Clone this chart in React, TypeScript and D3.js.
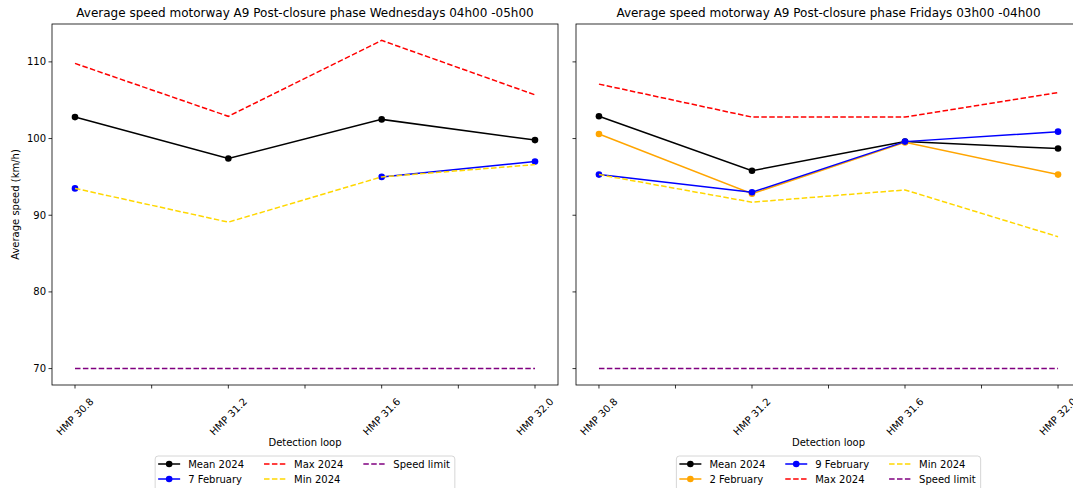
import React from 'react';
import * as d3 from 'd3';

const loops = [30.8, 31.2, 31.6, 32.0];
const tickVals = [30.8, 31.0, 31.2, 31.4, 31.6, 31.8, 32.0];
const tickLabels = ['HMP 30.8', '', 'HMP 31.2', '', 'HMP 31.6', '', 'HMP 32.0'];
const yTicks = [70, 80, 90, 100, 110];

// Wednesdays 04h00 - 05h00
const wedMean = [102.8, 97.4, 102.5, 99.8];
const wedFeb7 = [93.5, NaN, 95.0, 97.0];
const wedMax = [109.8, 102.9, 112.8, 105.7];
const wedMin = [93.5, 89.1, 95.0, 96.6];

// Fridays 03h00 - 04h00
const friMean = [102.9, 95.8, 99.6, 98.7];
const friFeb2 = [100.6, 92.8, 99.5, 95.3];
const friFeb9 = [95.3, 93.0, 99.6, 100.9];
const friMax = [107.1, 102.8, 102.8, 106.0];
const friMin = [95.3, 91.7, 93.3, 87.2];

const speedLimit = [70, 70, 70, 70];

interface Series {
  label: string;
  values: number[];
  color: string;
  dashed?: boolean;
  marker?: boolean;
}

const width = 1073;
const height = 488;
const top = 24;
const bottom = 385;
const yScale = d3.scaleLinear().domain([67.86, 114.94]).range([bottom, top]);

const font = 'DejaVu Sans, sans-serif';

let ctx: CanvasRenderingContext2D | null = null;
const textW = (s: string, size = 10) => {
  if (!ctx) ctx = document.createElement('canvas').getContext('2d');
  if (!ctx) return s.length * size * 0.6;
  ctx.font = `${size}px "DejaVu Sans"`;
  return ctx.measureText(s).width;
};

const Panel: React.FC<{
  x0: number;
  x1: number;
  title: string;
  series: Series[];
  showY: boolean;
}> = ({ x0, x1, title, series, showY }) => {
  const xScale = d3.scaleLinear().domain([30.74, 32.06]).range([x0, x1]);
  const line = d3
    .line<number>()
    .defined((d) => !isNaN(d))
    .x((_, i) => xScale(loops[i]))
    .y((d) => yScale(d));

  // legend layout: 3 columns, column-major, centred under the axes
  const handle = 22;
  const textPad = 8;
  const colGap = 20;
  const cols = d3.range(3).map((c) => series.slice(c * 2, c * 2 + 2));
  const colTextW = cols.map((c) => d3.max(c, (s) => textW(s.label)) || 0);
  const colX: number[] = [];
  let acc = 0;
  colTextW.forEach((w) => {
    colX.push(acc);
    acc += handle + textPad + w + colGap;
  });
  const contentW = acc - colGap;
  const legendW = contentW + 8;
  const legendX = (x0 + x1) / 2 - legendW / 2;

  return (
    <g>
      <text x={(x0 + x1) / 2} y={17} textAnchor="middle" fontSize={12} fontFamily={font}>
        {title}
      </text>
      {series.map((s) => (
        <g key={s.label}>
          <path
            d={line(s.values) || ''}
            fill="none"
            stroke={s.color}
            strokeWidth={1.5}
            strokeDasharray={s.dashed ? '5.5,2.4' : undefined}
          />
          {s.marker &&
            s.values.map((v, i) =>
              isNaN(v) ? null : <circle key={i} cx={xScale(loops[i])} cy={yScale(v)} r={3.3} fill={s.color} />
            )}
        </g>
      ))}
      <rect x={x0} y={top} width={x1 - x0} height={bottom - top} fill="none" stroke="#000" strokeWidth={0.8} />
      {yTicks.map((t) => (
        <g key={t}>
          <line x1={x0 - 3.5} x2={x0} y1={yScale(t)} y2={yScale(t)} stroke="#000" strokeWidth={0.8} />
          {showY && (
            <text x={x0 - 6} y={yScale(t)} dy="0.35em" textAnchor="end" fontSize={10} fontFamily={font}>
              {t}
            </text>
          )}
        </g>
      ))}
      {tickVals.map((t, i) => {
        const lab = tickLabels[i];
        const cy = bottom + 12 + (textW(lab) + 8) * 0.3536;
        return (
          <g key={t}>
            <line x1={xScale(t)} x2={xScale(t)} y1={bottom} y2={bottom + 3.5} stroke="#000" strokeWidth={0.8} />
            {lab && (
              <text
                transform={`translate(${xScale(t)},${cy}) rotate(-45)`}
                textAnchor="middle"
                dy="0.35em"
                fontSize={10}
                fontFamily={font}
              >
                {lab}
              </text>
            )}
          </g>
        );
      })}
      <text x={(x0 + x1) / 2} y={446} textAnchor="middle" fontSize={10} fontFamily={font}>
        Detection loop
      </text>
      {showY && (
        <text
          transform={`translate(19,${(top + bottom) / 2}) rotate(-90)`}
          textAnchor="middle"
          fontSize={10}
          fontFamily={font}
        >
          Average speed (km/h)
        </text>
      )}
      <rect x={legendX} y={456} width={legendW} height={40} rx={3} fill="#fff" stroke="#ccc" strokeWidth={0.8} />
      {series.map((s, i) => {
        const col = Math.floor(i / 2);
        const row = i % 2;
        const lx = legendX + 3 + colX[col];
        const ly = 464 + row * 15;
        return (
          <g key={s.label}>
            <line
              x1={lx}
              x2={lx + handle}
              y1={ly}
              y2={ly}
              stroke={s.color}
              strokeWidth={1.5}
              strokeDasharray={s.dashed ? '5.5,2.4' : undefined}
            />
            {s.marker && <circle cx={lx + handle / 2} cy={ly} r={3.3} fill={s.color} />}
            <text x={lx + handle + textPad} y={ly} dy="0.35em" fontSize={10} fontFamily={font}>
              {s.label}
            </text>
          </g>
        );
      })}
    </g>
  );
};

export default function App() {
  const mean = (v: number[]): Series => ({ label: 'Mean 2024', values: v, color: '#000', marker: true });
  const max = (v: number[]): Series => ({ label: 'Max 2024', values: v, color: '#ff0000', dashed: true });
  const min = (v: number[]): Series => ({ label: 'Min 2024', values: v, color: '#ffd700', dashed: true });
  const limit: Series = { label: 'Speed limit', values: speedLimit, color: '#800080', dashed: true };

  const wed: Series[] = [
    mean(wedMean),
    { label: '7 February', values: wedFeb7, color: '#0000ff', marker: true },
    max(wedMax),
    min(wedMin),
    limit,
  ];
  const fri: Series[] = [
    mean(friMean),
    { label: '2 February', values: friFeb2, color: '#ffa500', marker: true },
    { label: '9 February', values: friFeb9, color: '#0000ff', marker: true },
    max(friMax),
    min(friMin),
    limit,
  ];

  return (
    <svg width={width} height={height} style={{ position: 'fixed', left: 0, top: 0, background: '#fff' }}>
      <Panel
        x0={52}
        x1={558}
        title="Average speed motorway A9 Post-closure phase Wednesdays 04h00 -05h00"
        series={wed}
        showY
      />
      <Panel
        x0={576}
        x1={1081}
        title="Average speed motorway A9 Post-closure phase Fridays 03h00 -04h00"
        series={fri}
        showY={false}
      />
    </svg>
  );
}
